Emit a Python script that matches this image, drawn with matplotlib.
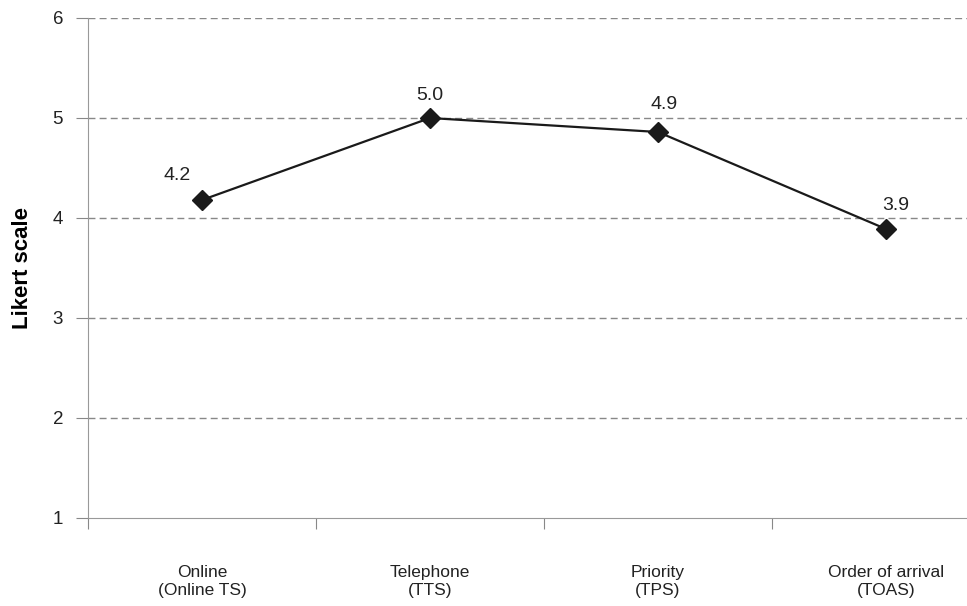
import numpy as np
import matplotlib.pyplot as plt

plt.rcParams['font.family'] = ['Liberation Sans', 'DejaVu Sans']

# 预约方式及其平均得分
categories = ['Online\n(Online TS)', 'Telephone\n(TTS)', 'Priority\n(TPS)', 'Order of arrival\n(TOAS)']
scores = [4.18, 5.0, 4.86, 3.89]
y_ticks = [1, 2, 3, 4, 5, 6]
# 数值标签的偏移（像素）
label_offsets = [(-25, 25), (0, 22), (6, 27), (10, 24)]

fig = plt.figure(figsize=(9.67, 6.06), dpi=100)
# 右边界超出画布一点，最后一个分类区间被裁掉
ax = fig.add_axes([88 / 967, 88 / 606, 912 / 967, 500 / 606])

x = np.arange(len(categories))
ax.plot(x, scores, color='#1a1a1a', lw=1.6, marker='D', ms=10,
        markerfacecolor='#1a1a1a', markeredgecolor='#1a1a1a', zorder=3)

for xi, v, (dx, dy) in zip(x, scores, label_offsets):
    ax.annotate(f'{v:.1f}', (xi, v), xytext=(dx, dy), textcoords='offset pixels',
                ha='center', va='center', fontsize=14, color='#222222')

ax.set_xlim(-0.5, len(categories) - 0.5)
ax.set_ylim(1, 6)
ax.set_yticks(y_ticks)

# 分类边界用主刻度，分类名放在次刻度上
ax.set_xticks(np.arange(len(categories) + 1) - 0.5)
ax.set_xticklabels([])
ax.set_xticks(x, minor=True)
ax.set_xticklabels(categories, minor=True, fontsize=12.5, color='#222222')
ax.tick_params(axis='x', which='minor', length=0, pad=34)
ax.tick_params(axis='x', which='major', length=8, color='#888888', direction='out')
ax.tick_params(axis='y', length=9, pad=9, color='#888888', labelsize=13.5, labelcolor='#222222')

for y in y_ticks[1:]:
    ax.axhline(y, color='#888888', lw=1, ls=(0, (5, 3)), zorder=1)

ax.spines['top'].set_visible(False)
ax.spines['right'].set_visible(False)
ax.spines['left'].set_color('#999999')
ax.spines['bottom'].set_color('#999999')

ax.set_ylabel('Likert scale', fontsize=16, fontweight='bold', labelpad=14)

fig.savefig('out.png', dpi=100)
